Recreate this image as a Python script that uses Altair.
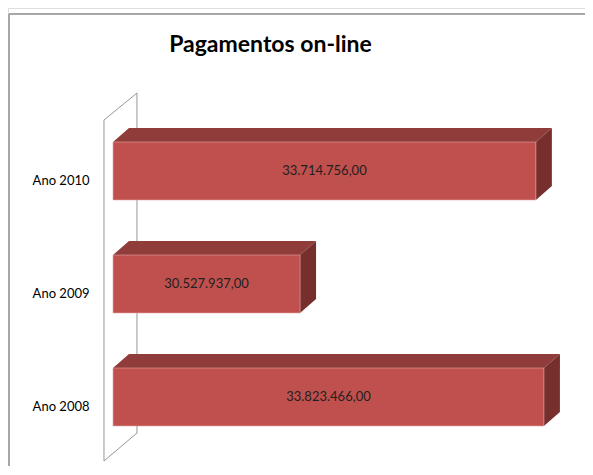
import altair as alt
import pandas as pd

# ---- data ----
categories = ["Ano 2008", "Ano 2009", "Ano 2010"]
values = [33823466.00, 30527937.00, 33714756.00]
chart_title = "Pagamentos on-line"

AXIS_MIN = 28_000_000
AXIS_MAX = 34_000_000

# ---- 3D styling constants (in data units) ----
HALF_H = 0.2566      # half bar thickness (category units)
DEPTH_X = 216_000    # bar depth, horizontal component
DEPTH_Y = 0.124      # bar depth, vertical component
WALL_FRONT_X = AXIS_MIN - 122_000
WALL_BACK_X = AXIS_MIN + 324_000
WALL_FRONT_Y = (-0.566, 2.451)
WALL_BACK_Y = (-0.319, 2.690)

FRONT = "#C0504D"
TOP = "#8F3C3A"
SIDE = "#772F2D"


def fmt_br(v):
    s = f"{v:,.2f}"
    return s.replace(",", "X").replace(".", ",").replace("X", ".")


front_rows, top_rows, side_rows = [], [], []
for i, (c, v) in enumerate(zip(categories, values)):
    yt, yb = i + HALF_H, i - HALF_H
    front_rows.append({"cat": c, "i": i, "x0": AXIS_MIN, "x1": v, "yt": yt, "yb": yb,
                       "xm": (AXIS_MIN + v) / 2, "label": fmt_br(v)})
    top_rows += [
        {"cat": c, "x": AXIS_MIN, "y": yt, "y2": yt},
        {"cat": c, "x": AXIS_MIN + DEPTH_X, "y": yt + DEPTH_Y, "y2": yt},
        {"cat": c, "x": v, "y": yt + DEPTH_Y, "y2": yt},
        {"cat": c, "x": v + DEPTH_X, "y": yt + DEPTH_Y, "y2": yt + DEPTH_Y},
    ]
    side_rows += [
        {"cat": c, "x": v, "y": yt, "y2": yb},
        {"cat": c, "x": v + DEPTH_X, "y": yt + DEPTH_Y, "y2": yb + DEPTH_Y},
    ]

wall_rows = [
    {"o": 0, "x": WALL_FRONT_X, "y": WALL_FRONT_Y[0]},
    {"o": 1, "x": WALL_FRONT_X, "y": WALL_FRONT_Y[1]},
    {"o": 2, "x": WALL_BACK_X, "y": WALL_BACK_Y[1]},
    {"o": 3, "x": WALL_BACK_X, "y": WALL_BACK_Y[0]},
    {"o": 4, "x": WALL_FRONT_X, "y": WALL_FRONT_Y[0]},
]

front_df = pd.DataFrame(front_rows)
top_df = pd.DataFrame(top_rows)
side_df = pd.DataFrame(side_rows)
wall_df = pd.DataFrame(wall_rows)

x_scale = alt.Scale(domain=[AXIS_MIN, AXIS_MAX], range=[105, 549], zero=False, nice=False)
y_scale = alt.Scale(domain=[-1, 3], range=[502, 50], zero=False, nice=False)

label_expr = "[" + ",".join(f"'{c}'" for c in categories) + "][datum.value]"
y_axis = alt.Axis(values=list(range(len(categories))), labelExpr=label_expr, domain=False,
                  ticks=False, grid=False, title=None, labelFont="Lato", labelFontSize=13,
                  labelColor="#000000", labelPadding=2, offset=-83, labelOffset=9)

wall = alt.Chart(wall_df).mark_line(color="#969696", strokeWidth=1).encode(
    x=alt.X("x:Q", scale=x_scale, axis=None),
    y=alt.Y("y:Q", scale=y_scale, axis=y_axis),
    order="o:Q",
)

top = alt.Chart(top_df).mark_area(color=TOP, orient="vertical").encode(
    x=alt.X("x:Q", scale=x_scale, axis=None),
    y=alt.Y("y:Q", scale=y_scale),
    y2="y2:Q",
    detail="cat:N",
)

side = alt.Chart(side_df).mark_area(color=SIDE, orient="vertical").encode(
    x=alt.X("x:Q", scale=x_scale, axis=None),
    y=alt.Y("y:Q", scale=y_scale),
    y2="y2:Q",
    detail="cat:N",
)

front = alt.Chart(front_df).mark_rect(color=FRONT, stroke="#E3A6A4", strokeWidth=0.6).encode(
    x=alt.X("x0:Q", scale=x_scale, axis=None),
    x2="x1:Q",
    y=alt.Y("yt:Q", scale=y_scale),
    y2="yb:Q",
)

text = alt.Chart(front_df).mark_text(font="Lato", fontSize=13, color="#1F1F1F",
                                     align="center", baseline="middle").encode(
    x=alt.X("xm:Q", scale=x_scale, axis=None),
    y=alt.Y("i:Q", scale=y_scale),
    text="label:N",
)

border_left = alt.Chart(front_df).mark_rule(color="#A6A6A6", strokeWidth=1.5).encode(
    x=alt.value(1), y=alt.value(6), y2=alt.value(470))
border_top = alt.Chart(front_df).mark_rule(color="#A6A6A6", strokeWidth=1.5).encode(
    x=alt.value(1), x2=alt.value(600), y=alt.value(6))

chart = alt.layer(wall, top, side, front, text, border_left, border_top).properties(
    width=577, height=458,
    title=alt.TitleParams(chart_title, font="Lato", fontSize=23, fontWeight="bold",
                          color="#000000", anchor="middle", frame="group",
                          dx=-26, dy=49, offset=0),
    padding=0,
    autosize=alt.AutoSizeParams(type="none"),
).configure_view(stroke=None).configure(background="white")

chart.save("out.html", embed_options={"renderer": "svg", "actions": False})
